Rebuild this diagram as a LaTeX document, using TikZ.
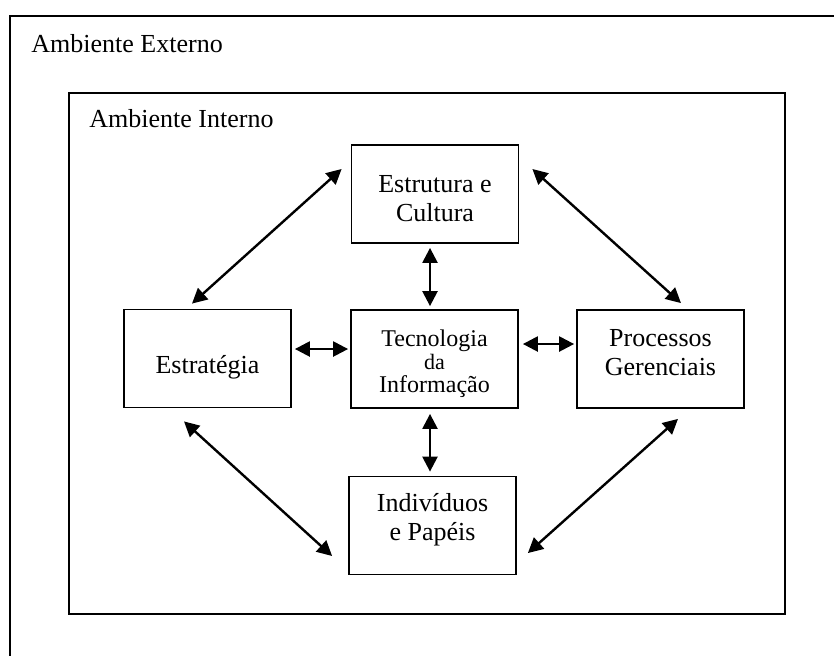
\documentclass[tikz,border=0pt]{standalone}
\usepackage{fontspec}
\setmainfont{Liberation Serif}
\usetikzlibrary{arrows.meta,calc}

\tikzset{
  frame/.style={draw=black, line width=1pt},
  block/.style={draw=black, line width=0.9pt, inner sep=0pt,
    minimum width=83.5pt, minimum height=49pt},
  label13/.style={inner sep=0pt, align=center,
    font=\fontsize{13pt}{14.5pt}\selectfont},
  link/.style={line width=1.2pt, {Triangle[length=7.5pt,width=7.5pt]}-{Triangle[length=7.5pt,width=7.5pt]}}
}

\begin{document}
\begin{tikzpicture}[x=0.5pt, y=-0.5pt]
  \useasboundingbox (0,0) rectangle (834,655);
  \clip (0,0) rectangle (834,655);

  % outer and inner environments
  \draw[frame] (9.5,16) rectangle (900,720);
  \node[label13, anchor=base west] (ext) at (31,52) {Ambiente Externo};
  \draw[frame] (69,93) rectangle (785,614);
  \node[label13, anchor=base west] (int) at (89,127) {Ambiente Interno};

  % the five blocks
  \node[block] (cult)  at (435,194)   {};
  \node[block] (tec)   at (434.5,359) {};
  \node[block] (ind)   at (432.5,525.5) {};
  \node[block] (strat) at (207.5,358.5) {};
  \node[block] (proc)  at (660.5,359) {};

  \node[label13] (tcult) at (435,199) {Estrutura e\\Cultura};
  \node[label13, anchor=base] (tstrat) at (207.5,373) {Estratégia};
  \node[label13] (tproc) at (660.5,352.5) {Processos\\Gerenciais};
  \node[label13] (tind) at (432.5,520) {Indivíduos\\e Papéis};
  \node[inner sep=0pt, align=center] (ttec) at (434.5,363.5)
    {\fontsize{12pt}{13pt}\selectfont Tecnologia\\[-0.5pt]
     \fontsize{11pt}{13pt}\selectfont da\\[-0.5pt]
     \fontsize{12pt}{13pt}\selectfont Informação};

  % links to the central block
  \draw[link] ($(cult.south)+(-5,4)$) -- ($(tec.north)+(-4.5,-3)$);
  \draw[link] ($(tec.south)+(-4.5,5)$) -- ($(ind.north)+(-2.5,-4)$);
  \draw[link] ($(strat.east)+(3,-9.5)$) -- ($(tec.west)+(-2,-10)$);
  \draw[link] ($(tec.east)+(4,-15)$) -- ($(proc.west)+(-2,-15)$);

  % links around the ring
  \draw[link] ($(strat.north)+(-15.5,-5)$) -- ($(cult.west)+(-9,-25)$);
  \draw[link] ($(cult.east)+(13,-25)$) -- ($(proc.north)+(20.5,-6)$);
  \draw[link] ($(strat.south)+(-23.5,13)$) -- ($(ind.west)+(-16,30.5)$);
  \draw[link] ($(ind.east)+(11,27.5)$) -- ($(proc.south)+(17.5,10)$);
\end{tikzpicture}
\end{document}
